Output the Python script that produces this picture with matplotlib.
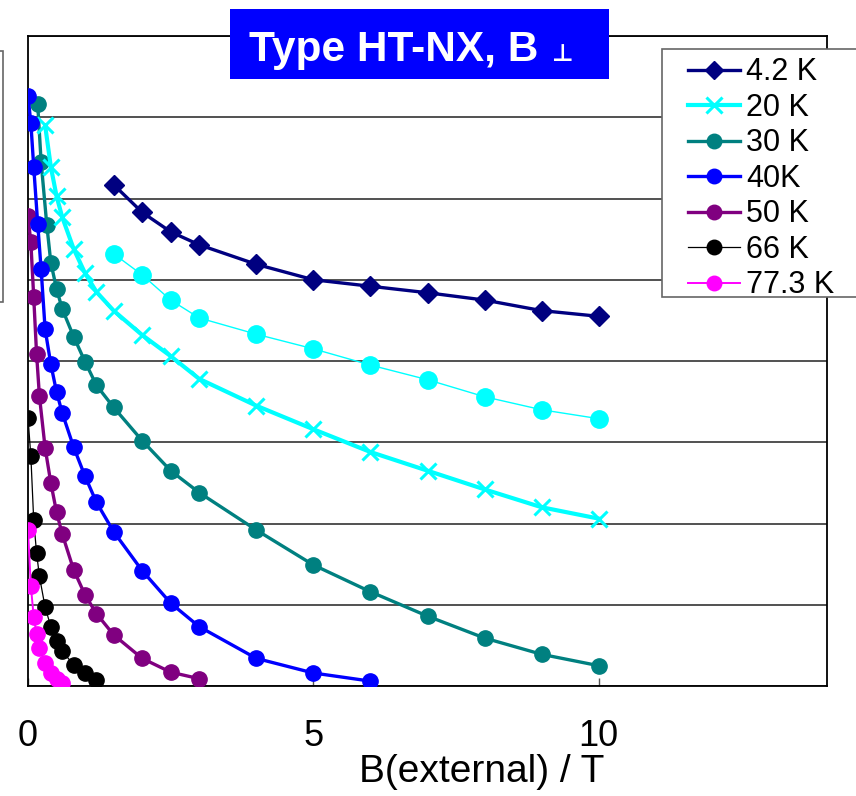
import matplotlib
matplotlib.use("Agg")
import matplotlib.pyplot as plt
from matplotlib.patches import Rectangle
from matplotlib import font_manager

W, H = 856, 796

# ---------------- data ----------------
b_42 = [1.5, 2, 2.5, 3, 4, 5, 6, 7, 8, 9, 10]
y_42 = [6.17, 5.83, 5.59, 5.43, 5.19, 5.00, 4.92, 4.84, 4.75, 4.62, 4.55]

b_20c = [1.5, 2, 2.5, 3, 4, 5, 6, 7, 8, 9, 10]
y_20c = [5.32, 5.06, 4.75, 4.53, 4.33, 4.15, 3.95, 3.77, 3.56, 3.40, 3.29]

b_20 = [0.3, 0.4, 0.5, 0.6, 0.8, 1.0, 1.2, 1.5, 2, 2.5, 3, 4, 5, 6, 7, 8, 9, 10]
y_20 = [6.90, 6.39, 6.03, 5.77, 5.38, 5.08, 4.85, 4.62, 4.32, 4.06, 3.78,
        3.45, 3.16, 2.88, 2.65, 2.42, 2.20, 2.06]

b_30 = [0.17, 0.23, 0.33, 0.4, 0.5, 0.6, 0.8, 1.0, 1.2, 1.5, 2, 2.5, 3,
        4, 5, 6, 7, 8, 9, 10]
y_30 = [7.16, 6.45, 5.67, 5.21, 4.89, 4.64, 4.30, 3.99, 3.70, 3.43, 3.02,
        2.65, 2.38, 1.92, 1.49, 1.16, 0.86, 0.59, 0.39, 0.25]

b_40 = [0.0, 0.05, 0.1, 0.17, 0.23, 0.3, 0.4, 0.5, 0.6, 0.8, 1.0, 1.2, 1.5,
        2, 2.5, 3, 4, 5, 6]
y_40 = [7.26, 6.93, 6.39, 5.69, 5.13, 4.39, 3.96, 3.62, 3.36, 2.94, 2.58,
        2.26, 1.90, 1.42, 1.02, 0.73, 0.34, 0.16, 0.06]

b_50 = [0.0, 0.05, 0.1, 0.15, 0.2, 0.3, 0.4, 0.5, 0.6, 0.8, 1.0, 1.2, 1.5,
        2, 2.5, 3]
y_50 = [5.78, 5.46, 4.79, 4.09, 3.57, 2.93, 2.50, 2.14, 1.87, 1.43, 1.12,
        0.89, 0.63, 0.34, 0.17, 0.09]

b_66 = [0.0, 0.05, 0.1, 0.15, 0.2, 0.3, 0.4, 0.5, 0.6, 0.8, 1.0, 1.2]
y_66 = [3.30, 2.83, 2.04, 1.64, 1.35, 0.97, 0.73, 0.55, 0.43, 0.26, 0.16, 0.07]

b_77 = [0.0, 0.05, 0.1, 0.15, 0.2, 0.3, 0.4, 0.5, 0.6]
y_77 = [1.92, 1.23, 0.85, 0.64, 0.47, 0.28, 0.16, 0.09, 0.04]

x_ticks = [0, 5, 10]
x_tick_labels = ["0", "5", "10"]
title_main = "Type HT-NX, B"
title_sym = "\u22a5"
x_label = "B(external) / T"

# ---------------- fonts ----------------
names = {f.name for f in font_manager.fontManager.ttflist}
narrow = "Liberation Sans Narrow" if "Liberation Sans Narrow" in names else "Liberation Sans"
plt.rcParams["font.family"] = ["Liberation Sans", "DejaVu Sans"]

fig = plt.figure(figsize=(W / 100, H / 100), dpi=100)
fig.patch.set_facecolor("white")

def fx(px):
    return px / W

def fy(py):
    return 1 - py / H

ax = fig.add_axes([fx(28), fy(686), fx(827) - fx(28), fy(36) - fy(686)])
ax.set_xlim(0, 14)
ax.set_ylim(0, 8)

ax.set_yticks(range(0, 9))
ax.yaxis.grid(True, color="#222222", linewidth=1.1)
ax.set_axisbelow(True)
ax.tick_params(axis="y", length=0, labelleft=False)
ax.set_xticks(x_ticks)
ax.set_xticklabels(x_tick_labels, fontfamily=narrow, fontsize=26)
ax.tick_params(axis="x", direction="in", length=6, width=1, color="#555555", pad=24)
for s in ax.spines.values():
    s.set_color("black")
    s.set_linewidth(1.3)

ax.plot(b_42, y_42, color="#000080", lw=2.4, marker="D", ms=10, label="4.2 K", zorder=5)
ax.plot(b_20c, y_20c, color="#00FFFF", lw=1.0, marker="o", ms=12.5, zorder=4)
ax.plot(b_20, y_20, color="#00FFFF", lw=3.0, marker="x", ms=12, mew=2.2, label="20 K", zorder=4)
ax.plot(b_30, y_30, color="#008080", lw=2.4, marker="o", ms=11, label="30 K", zorder=3)
ax.plot(b_40, y_40, color="#0000FF", lw=2.4, marker="o", ms=11, label="40K", zorder=6)
ax.plot(b_50, y_50, color="#800080", lw=2.4, marker="o", ms=11, label="50 K", zorder=5)
ax.plot(b_66, y_66, color="#000000", lw=0.9, marker="o", ms=11, label="66 K", zorder=4)
ax.plot(b_77, y_77, color="#FF00FF", lw=1.4, marker="o", ms=11, label="77.3 K", zorder=6)

# x label
fig.text(fx(482), fy(772), x_label, ha="center", va="center",
         fontsize=28, fontfamily=narrow)

# legend frame (extends past the right edge of the figure)
fig.patches.append(Rectangle((fx(662), fy(297)), fx(880) - fx(662), fy(49) - fy(297),
                             transform=fig.transFigure, facecolor="white",
                             edgecolor="#666666", linewidth=1.2, zorder=2))
leg = fig.legend(loc="upper left", bbox_to_anchor=(fx(664), fy(33)),
                 bbox_transform=fig.transFigure, frameon=False, fontsize=22,
                 handlelength=1.7, handletextpad=0.2, labelspacing=0.18,
                 borderpad=0.3, markerscale=0.95)
leg.set_zorder(3)

# left cropped box
fig.patches.append(Rectangle((fx(-20), fy(302)), fx(23), fy(51) - fy(302),
                             transform=fig.transFigure, facecolor="white",
                             edgecolor="#666666", linewidth=1.2, zorder=2))

# title box
fig.patches.append(Rectangle((fx(230), fy(79)), fx(609) - fx(230), fy(9) - fy(79),
                             transform=fig.transFigure, facecolor="#0000FF",
                             edgecolor="none", zorder=2))
fig.text(fx(249), fy(61), title_main, ha="left", va="baseline", color="white",
         fontsize=30.5, fontweight="bold", zorder=3)
fig.text(fx(552), fy(61), title_sym, ha="left", va="baseline", color="white",
         fontsize=17, fontweight="bold", zorder=3,
         fontfamily=["DejaVu Sans"])

fig.savefig("out.png", dpi=100)
